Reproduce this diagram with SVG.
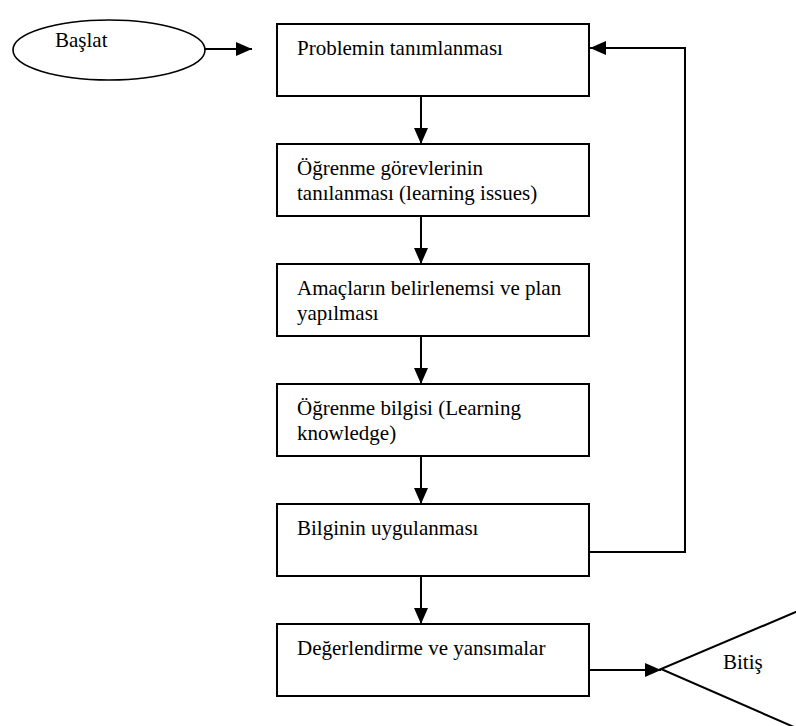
<svg xmlns="http://www.w3.org/2000/svg" width="796" height="726" viewBox="0 0 796 726">
<style>
.box{fill:#fff;stroke:#000;stroke-width:2}
.t{font-family:"Liberation Serif","Times New Roman",serif;font-size:21px;fill:#000}
.c{fill:none;stroke:#000;stroke-width:2}
</style>
<defs>
<marker id="ah" markerWidth="16" markerHeight="14" refX="16" refY="7" orient="auto" markerUnits="userSpaceOnUse">
<path d="M0,0 L16,7 L0,14 Z" fill="#000"/>
</marker>
</defs>
<rect width="796" height="726" fill="#fff"/>
<g id="start">
<ellipse cx="109" cy="50" rx="96" ry="30" fill="#fff" stroke="#000" stroke-width="1.6"/>
<text class="t" x="55" y="47">Başlat</text>
</g>
<g id="n1">
<rect class="box" x="277" y="24" width="312" height="72"/>
<text class="t" x="297" y="55">Problemin tanımlanması</text>
</g>
<g id="n2">
<rect class="box" x="277" y="144" width="312" height="72"/>
<text class="t" x="297" y="175">Öğrenme görevlerinin</text>
<text class="t" x="297" y="200">tanılanması (learning issues)</text>
</g>
<g id="n3">
<rect class="box" x="277" y="264" width="312" height="72"/>
<text class="t" x="297" y="295">Amaçların belirlenemsi ve plan</text>
<text class="t" x="297" y="320">yapılması</text>
</g>
<g id="n4">
<rect class="box" x="277" y="384" width="312" height="72"/>
<text class="t" x="297" y="415">Öğrenme bilgisi (Learning</text>
<text class="t" x="297" y="440">knowledge)</text>
</g>
<g id="n5">
<rect class="box" x="277" y="504" width="312" height="72"/>
<text class="t" x="297" y="535">Bilginin uygulanması</text>
</g>
<g id="n6">
<rect class="box" x="277" y="624" width="312" height="72"/>
<text class="t" x="297" y="655">Değerlendirme ve yansımalar</text>
</g>
<g id="end">
<polyline class="c" points="810,606 661,669 810,734"/>
<text class="t" x="723" y="669">Bitiş</text>
</g>
<g id="connectors">
<line class="c" x1="205" y1="49" x2="252" y2="49" marker-end="url(#ah)"/>
<line class="c" x1="421" y1="96" x2="421" y2="144" marker-end="url(#ah)"/>
<line class="c" x1="421" y1="216" x2="421" y2="264" marker-end="url(#ah)"/>
<line class="c" x1="421" y1="336" x2="421" y2="384" marker-end="url(#ah)"/>
<line class="c" x1="421" y1="456" x2="421" y2="504" marker-end="url(#ah)"/>
<line class="c" x1="421" y1="576" x2="421" y2="624" marker-end="url(#ah)"/>
<polyline class="c" points="589,552 685,552 685,48 590,48" marker-end="url(#ah)"/>
<line class="c" x1="589" y1="670" x2="661" y2="670" marker-end="url(#ah)"/>
</g>
</svg>
